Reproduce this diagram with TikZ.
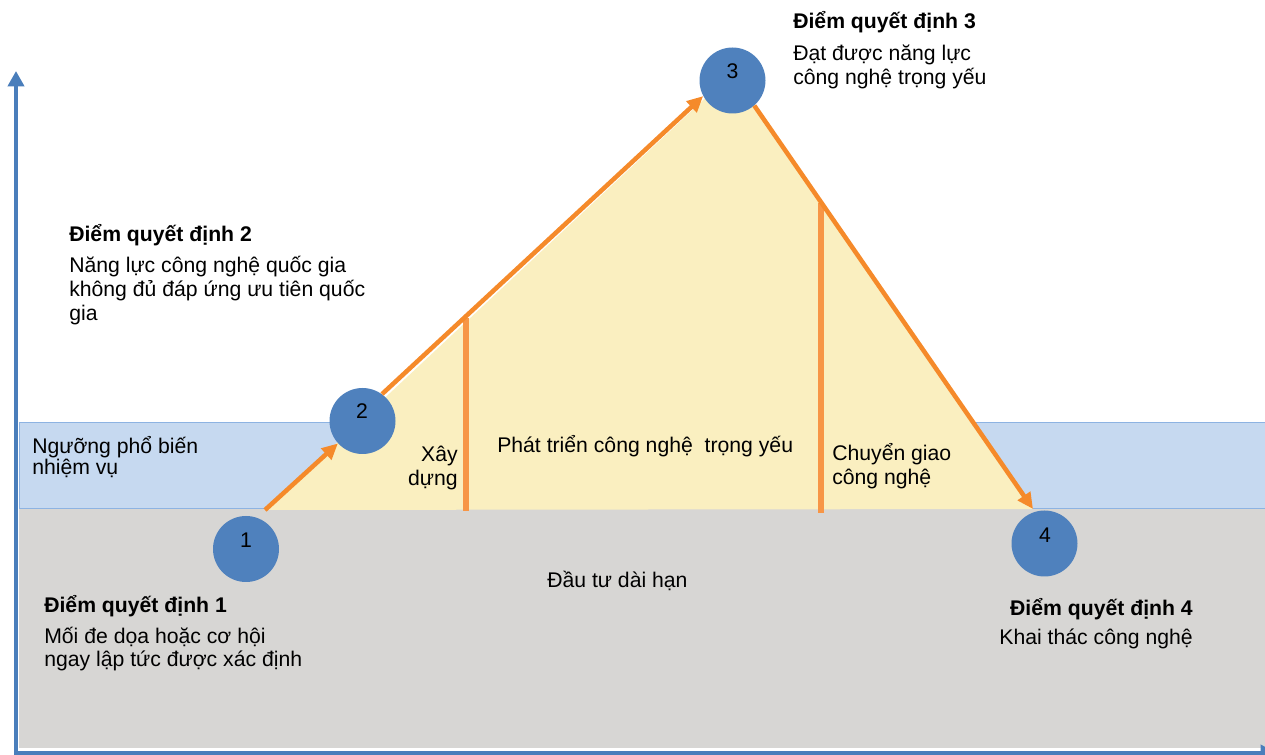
\documentclass[tikz,border=0pt]{standalone}
\usepackage{fontspec}
\setmainfont{Liberation Sans}
\usetikzlibrary{arrows.meta}

\definecolor{axisblue}{HTML}{4A7EBB}
\definecolor{dotblue}{HTML}{4F81BD}
\definecolor{bandfill}{HTML}{C6D9F0}
\definecolor{bandline}{HTML}{8DB3E2}
\definecolor{groundgray}{HTML}{D7D6D4}
\definecolor{peakfill}{HTML}{FAEFC0}
\definecolor{arroworange}{HTML}{F58A2A}
\definecolor{lineorange}{HTML}{F79646}

\begin{document}
\begin{tikzpicture}[x=0.75pt,y=-0.75pt,
  txt/.style={font=\fontsize{15.9}{18}\selectfont, inner sep=0pt, anchor=base west},
  ttl/.style={txt, font=\fontsize{15.9}{18}\selectfont\bfseries},
  dot/.style={circle, fill=dotblue, minimum size=49.5pt, inner sep=0pt},
  num/.style={font=\fontsize{15.9}{18}\selectfont, inner sep=0pt},
  flow/.style={draw=arroworange, line width=3.4pt, -{Triangle[length=12pt,width=11pt]}},
  divider/.style={draw=lineorange, line width=4.2pt},
  axis/.style={draw=axisblue, line width=2.8pt, -{Triangle[length=11.5pt,width=12pt]}}]

\useasboundingbox (0,0) rectangle (1265,755);
\clip (0,0) rectangle (1265,755);

% threshold band and long-term investment ground
\filldraw[fill=bandfill, draw=bandline, line width=0.75pt] (19,423) rectangle (1268,509);
\fill[groundgray] (19,509.5) rectangle (1268,748);

% development triangle
\coordinate (b1) at (265,510);
\coordinate (apex) at (732,73);
\coordinate (b4) at (1033,509);
\fill[peakfill] (b1) -- (apex) -- (b4) -- cycle;

% phase dividers
\coordinate (d1top) at (466,318);
\coordinate (d1bot) at (466,511);
\coordinate (d2top) at (821,203);
\coordinate (d2bot) at (821,513);
\draw[divider] (d1top) -- (d1bot);
\draw[divider] (d2top) -- (d2bot);

% axes
\coordinate (origin) at (16,753);
\coordinate (ytop) at (16,71);
\coordinate (xstart) at (14,753);
\coordinate (xend) at (1276,753);
\draw[axis] (origin) -- (ytop);
\draw[axis] (xstart) -- (xend);

% decision points
\node[dot] (c1) at (246,549) {};
\node[dot] (c2) at (362.5,421) {};
\node[dot] (c3) at (732.5,80.5) {};
\node[dot] (c4) at (1044.5,543.5) {};
\node[num] (n1) at (246,540) {1};
\node[num] (n2) at (362,411) {2};
\node[num] (n3) at (732.5,71.5) {3};
\node[num] (n4) at (1045,535) {4};

% progression arrows
\draw[flow] (b1) -- (c2);
\draw[flow] (c2.54) -- (c3.208);
\draw[flow] (c3.311) -- (b4);

% decision point 3
\node[ttl] (t3) at (793,29) {Điểm quyết định 3};
\node[txt] (t3a) at (793,61) {Đạt được năng lực};
\node[txt] (t3b) at (793,85) {công nghệ trọng yếu};

% decision point 2
\node[ttl] (t2) at (69,242) {Điểm quyết định 2};
\node[txt] (t2a) at (69,273) {Năng lực công nghệ quốc gia};
\node[txt] (t2b) at (69,297) {không đủ đáp ứng ưu tiên quốc};
\node[txt] (t2c) at (69,321) {gia};

% decision point 1
\node[ttl] (t1) at (44,613) {Điểm quyết định 1};
\node[txt] (t1a) at (44,643) {Mối đe dọa hoặc cơ hội};
\node[txt] (t1b) at (44,667) {ngay lập tức được xác định};

% decision point 4
\node[ttl, anchor=base east] (t4) at (1193,615) {Điểm quyết định 4};
\node[txt, anchor=base east] (t4a) at (1193,645) {Khai thác công nghệ};

% band label
\node[txt] (band1) at (32,454) {Ngưỡng phổ biến};
\node[txt] (band2) at (32,475) {nhiệm vụ};

% phase labels
\node[txt, anchor=base east] (ph1a) at (458,462) {Xây};
\node[txt, anchor=base east] (ph1b) at (458,486) {dựng};
\node[txt] (ph2) at (497,453) {Phát triển công nghệ~ trọng yếu};
\node[txt] (ph3a) at (832,461) {Chuyển giao};
\node[txt] (ph3b) at (832,485) {công nghệ};

% ground label
\node[txt] (ground) at (547,588) {Đầu tư dài hạn};
\end{tikzpicture}
\end{document}
